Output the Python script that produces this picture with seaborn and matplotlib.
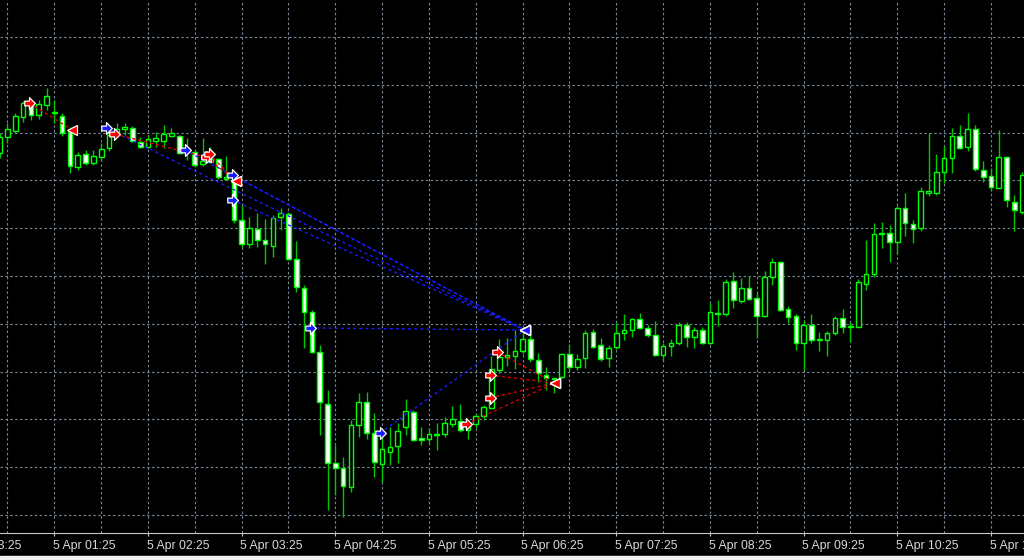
import matplotlib
matplotlib.use('Agg')
import matplotlib.pyplot as plt
import matplotlib.transforms as mtransforms
from matplotlib.patches import Rectangle
from matplotlib.path import Path
import seaborn as sns
import numpy as np
import pandas as pd

# M5 bars, 5 Apr 00:50 .. 11:45 (chart units, no price scale shown)
opens = [407, 423, 429, 443, 456, 445, 455, 447, 444, 428, 393, 406,
         397, 403, 412, 427, 431, 432, 418, 413, 419, 419, 424, 424,
         408, 408, 396, 398, 401, 381, 382, 340, 316, 331, 320, 314,
         343, 346, 301, 272, 248, 208, 156, 97, 92, 73, 135, 158,
         127, 96, 108, 114, 133, 148, 122, 121, 125, 126, 136, 139,
         130, 136, 144, 152, 190, 203, 204, 209, 221, 200, 185, 181,
         183, 206, 193, 202, 228, 215, 202, 213, 227, 230, 241, 232,
         225, 205, 214, 217, 235, 223, 230, 217, 246, 246, 279, 259,
         272, 262, 244, 283, 298, 251, 244, 217, 235, 220, 220, 227,
         242, 233, 233, 276, 286, 326, 327, 318, 352, 336, 332, 367,
         367, 388, 402, 424, 413, 431, 390, 384, 372, 403, 358, 348]
highs = [427, 437, 447, 459, 459, 460, 472, 460, 447, 433, 408, 410,
         410, 417, 430, 437, 437, 434, 423, 425, 428, 435, 432, 425,
         422, 411, 422, 413, 402, 404, 383, 355, 343, 347, 341, 345,
         352, 348, 319, 275, 250, 215, 170, 115, 103, 140, 167, 168,
         147, 122, 133, 137, 161, 150, 133, 132, 137, 143, 154, 156,
         140, 147, 155, 204, 221, 222, 230, 228, 227, 207, 193, 182,
         207, 216, 206, 230, 231, 222, 215, 237, 246, 242, 247, 235,
         239, 217, 221, 238, 238, 233, 233, 257, 260, 281, 288, 282,
         284, 267, 289, 302, 299, 254, 246, 240, 246, 228, 229, 244,
         251, 238, 281, 320, 337, 338, 335, 354, 367, 340, 373, 427,
         406, 414, 432, 435, 447, 435, 399, 392, 430, 404, 365, 388]
lows = [402, 417, 427, 438, 440, 441, 450, 437, 424, 387, 390, 395,
        395, 399, 409, 424, 425, 418, 412, 412, 413, 412, 423, 406,
        400, 393, 394, 397, 381, 381, 337, 313, 312, 313, 296, 303,
        330, 300, 268, 212, 207, 125, 50, 65, 43, 68, 123, 121,
        83, 78, 95, 97, 125, 119, 115, 117, 110, 123, 133, 128,
        121, 132, 140, 152, 187, 194, 191, 206, 198, 178, 170, 167,
        182, 190, 190, 192, 212, 199, 193, 211, 220, 223, 231, 223,
        204, 199, 204, 215, 213, 212, 216, 216, 234, 244, 252, 257,
        260, 222, 243, 275, 249, 237, 210, 190, 217, 209, 204, 225,
        227, 218, 233, 270, 283, 312, 298, 306, 324, 317, 329, 364,
        365, 377, 387, 411, 409, 389, 378, 369, 372, 353, 329, 346]
closes = [423, 431, 444, 457, 445, 456, 464, 448, 427, 394, 405, 397,
          404, 411, 425, 431, 433, 419, 413, 421, 422, 426, 427, 407,
          412, 395, 399, 401, 383, 383, 340, 316, 332, 320, 316, 342,
          347, 301, 273, 248, 208, 158, 97, 92, 74, 135, 158, 127,
          98, 111, 113, 129, 149, 120, 120, 126, 126, 137, 141, 130,
          137, 144, 153, 191, 203, 205, 209, 221, 201, 187, 182, 182,
          206, 193, 201, 227, 213, 201, 212, 227, 230, 241, 232, 225,
          205, 214, 217, 235, 223, 230, 217, 248, 247, 278, 260, 272,
          261, 244, 283, 298, 250, 243, 217, 235, 220, 221, 227, 242,
          233, 234, 278, 286, 326, 326, 318, 352, 337, 331, 369, 369,
          388, 402, 424, 412, 431, 391, 383, 373, 403, 360, 350, 385]

tick_bars = [-5, 7, 19, 31, 43, 55, 67, 79, 91, 103, 115, 127]
tick_labels = ["4 Apr 23:25", "5 Apr 01:25", "5 Apr 02:25", "5 Apr 03:25",
               "5 Apr 04:25", "5 Apr 05:25", "5 Apr 06:25", "5 Apr 07:25",
               "5 Apr 08:25", "5 Apr 09:25", "5 Apr 10:25", "5 Apr 11:25"]

# trade history (bar position, price)
buy_open_bar = [13.6, 23.7, 29.8, 29.8, 39.8, 48.7]
buy_open_price = [432, 410, 385, 360, 232, 127]
buy_close_bar = [67.3, 67.3, 67.3, 67.3, 67.3, 67.3]
buy_close_price = [230, 230, 230, 230, 230, 230]

sell_open_bar = [3.8, 14.7, 26.4, 26.8, 59.8, 62.8, 62.8, 63.7]
sell_open_price = [457, 426, 403, 406, 136, 162, 185, 208]
sell_close_bar = [9.3, 26.4, 30.3, 30.3, 71.1, 71.1, 71.1, 71.1]
sell_close_price = [430, 403, 379, 379, 177, 177, 177, 177]

df = pd.DataFrame({"open": opens, "high": highs, "low": lows, "close": closes})
df["bar"] = np.arange(len(df))
df["bear"] = df["close"] < df["open"]

sns.set_theme(style="dark", rc={"axes.facecolor": "black", "figure.facecolor": "black"})
plt.rcParams["font.family"] = ["Liberation Sans", "DejaVu Sans"]

fig = plt.figure(figsize=(10.24, 5.6), dpi=100)
ax = fig.add_axes([0, 27 / 560, 1, 533 / 560])
ax.set_facecolor("black")

# candles
ax.vlines(df["bar"], df["low"], df["high"], color="#00c800", lw=1.0, zorder=2)
body_low = np.minimum(df["open"], df["close"])
body_h = np.maximum((df["close"] - df["open"]).abs(), 0.6)
ax.bar(df["bar"], body_h, bottom=body_low, width=0.6,
       color=np.where(df["bear"], "white", "black"),
       edgecolor="#00ff00", linewidth=1.0, zorder=3)

# trade lines
dots = (0, (2.2, 2.2))
for ob, op, cb, cp in zip(buy_open_bar, buy_open_price, buy_close_bar, buy_close_price):
    ax.plot([ob, cb], [op, cp], color="#1a1aff", lw=1, ls=dots, zorder=4)
for ob, op, cb, cp in zip(sell_open_bar, sell_open_price, sell_close_bar, sell_close_price):
    ax.plot([ob, cb], [op, cp], color="#d80000", lw=1, ls=dots, zorder=4)

arrow = Path([(-0.8, -0.4), (0.0, -0.4), (0.0, -1.0), (1, 0), (0.0, 1.0),
              (0.0, 0.4), (-0.8, 0.4), (-0.8, -0.4)],
             [Path.MOVETO] + [Path.LINETO] * 6 + [Path.CLOSEPOLY])

ax.plot(buy_close_bar, buy_close_price, ls="none", marker="<", ms=7.5,
        mfc="#1a1aff", mec="white", mew=0.9, zorder=5)
ax.plot(sell_close_bar, sell_close_price, ls="none", marker="<", ms=7.5,
        mfc="#ff0000", mec="white", mew=0.9, zorder=5)
ax.plot(buy_open_bar, buy_open_price, ls="none", marker=arrow, ms=8.5,
        mfc="#1a1aff", mec="white", mew=0.9, zorder=6)
ax.plot(sell_open_bar, sell_open_price, ls="none", marker=arrow, ms=8.5,
        mfc="#ff0000", mec="white", mew=0.9, zorder=6)

# axes, grid
ax.set_xlim(0.04, 131.23)
ax.set_ylim(27, 560)
ax.set_yticks(np.arange(45, 560, 47.8))
ax.set_xticks([b for b in tick_bars if b >= 0])
ax.set_xticklabels([])
ax.set_xticks(np.arange(1, 132, 6), minor=True)
grid_kw = dict(color="#778899", lw=0.8, ls=(0, (2.2, 2.2)))
ax.grid(True, which="both", axis="x", **grid_kw)
ax.grid(True, which="major", axis="y", **grid_kw)
ax.tick_params(axis="y", left=False, labelleft=False)
ax.tick_params(axis="x", which="major", direction="out", length=2.2, width=0.8,
               color="#c8c8c8", bottom=True)
ax.tick_params(axis="x", which="minor", length=0)
for side in ["top", "left", "right"]:
    ax.spines[side].set_visible(False)
ax.spines["bottom"].set_color("#c8c8c8")
ax.spines["bottom"].set_linewidth(0.8)

trans = mtransforms.blended_transform_factory(ax.transData, ax.transAxes)
for b, lab in zip(tick_bars, tick_labels):
    ax.text(b - 0.15, -0.013, lab, transform=trans, ha="left", va="top",
            fontsize=8.8, color="#d8d8d8", clip_on=False)

fig.add_artist(Rectangle((0, 0), 1, 4 / 560, transform=fig.transFigure,
                         color="#f0f0f0", zorder=10))

fig.savefig("out.png", dpi=100, facecolor="black")
